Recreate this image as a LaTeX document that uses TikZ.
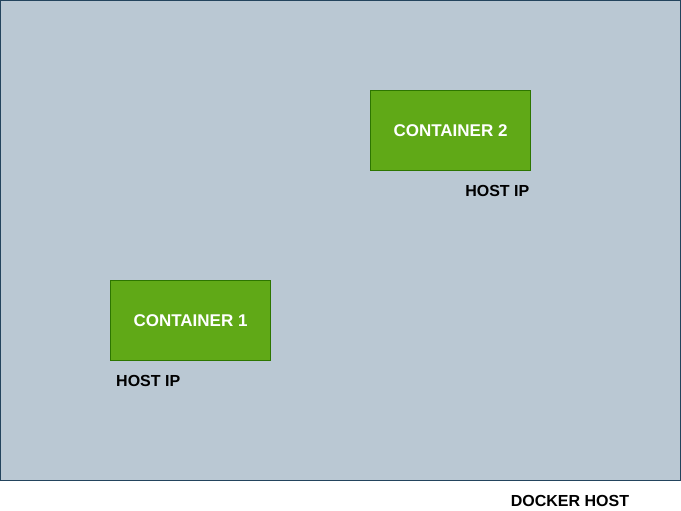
\documentclass[tikz,border=0pt]{standalone}
\usepackage{fontspec}
\setmainfont{Liberation Sans}
\definecolor{hostfill}{HTML}{BAC8D3}
\definecolor{hostline}{HTML}{23445D}
\definecolor{boxfill}{HTML}{60A917}
\definecolor{boxline}{HTML}{2D7600}
\begin{document}
\begin{tikzpicture}[x=1pt,y=-1pt,
  hostbox/.style={draw=hostline,fill=hostfill,line width=1pt},
  containerbox/.style={draw=boxline,fill=boxfill,line width=1pt,minimum width=160pt,minimum height=80pt,inner sep=0pt,text=white,font=\fontsize{17pt}{20pt}\selectfont\bfseries},
  lbl/.style={inner sep=0pt,text=black,font=\fontsize{16pt}{19pt}\selectfont\bfseries}]
\useasboundingbox (0,0) rectangle (681,511);
\draw[hostbox] (0.5,0.5) rectangle (680.5,480.5);
\node[containerbox] (c2) at (450.5,130.5) {CONTAINER 2};
\node[containerbox] (c1) at (190.5,320.5) {CONTAINER 1};
\node[lbl,anchor=east] (ip2) at (529.5,190.5) {HOST IP};
\node[lbl,anchor=west] (ip1) at (116,380.5) {HOST IP};
\node[lbl] (dh) at (570,500.5) {DOCKER HOST};
\end{tikzpicture}
\end{document}
